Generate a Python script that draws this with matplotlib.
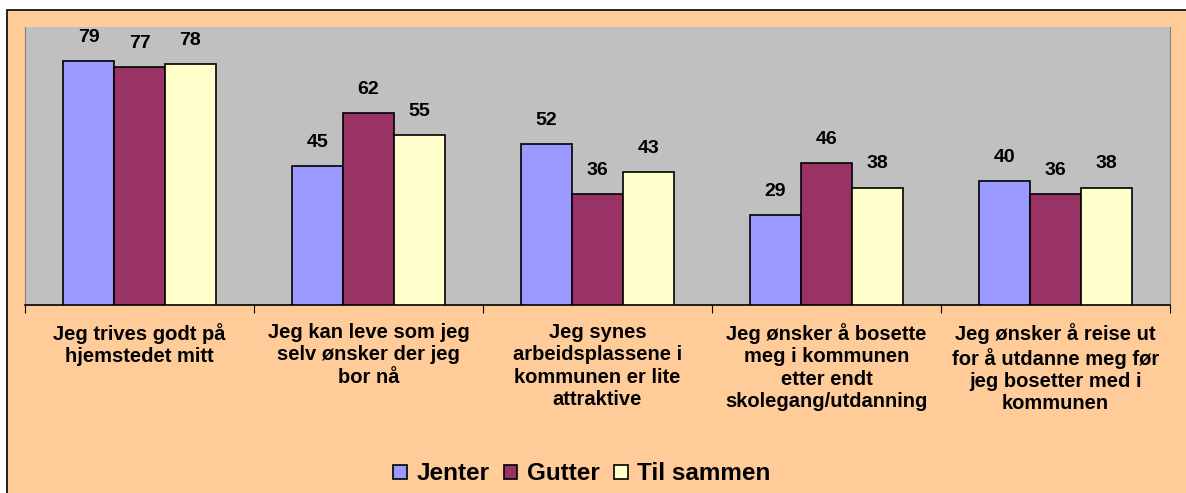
import matplotlib
matplotlib.use("Agg")
from matplotlib import pyplot as plt
from matplotlib.patches import Rectangle
import numpy as np

# Categories (x-axis labels)
categories = [
    "Jeg trives godt på\nhjemstedet mitt",
    "Jeg kan leve som jeg\nselv ønsker der jeg\nbor nå",
    "Jeg synes\narbeidsplassene i\nkommunen er lite\nattraktive",
    "Jeg ønsker å bosette\nmeg i kommunen\netter endt\nskolegang/utdanning",
    "Jeg ønsker å reise ut\nfor å utdanne meg før\njeg bosetter med i\nkommunen",
]

# Series values
jenter = [79, 45, 52, 29, 40]
gutter = [77, 62, 36, 46, 36]
til_sammen = [78, 55, 43, 38, 38]

series_names = ["Jenter", "Gutter", "Til sammen"]
colors = ["#9999FF", "#993366", "#FFFFCC"]

plt.rcParams["font.family"] = ["Liberation Sans", "DejaVu Sans"]
plt.rcParams["font.weight"] = "bold"

fig = plt.figure(figsize=(11.86, 4.93), dpi=100)
fig.patch.set_facecolor("white")

# Peach chart area with black border (runs off the right/bottom edge)
W, H = 1186, 493
fig.patches.append(Rectangle((7 / W, -0.05), 1.2, (H - 10) / H + 0.05,
                             transform=fig.transFigure, facecolor="#FFCC99",
                             edgecolor="black", linewidth=1.2, zorder=-5))

ax = fig.add_axes([25 / W, (H - 305) / H, (1170 - 25) / W, (305 - 27) / H])
ax.set_facecolor("#C0C0C0")

x = np.arange(len(categories))
width = 1 / 4.5
for i, (vals, name, col) in enumerate(zip([jenter, gutter, til_sammen], series_names, colors)):
    bars = ax.bar(x + (i - 1) * width, vals, width, color=col, edgecolor="black",
                  linewidth=1.2, label=name, zorder=3)
    for b, v in zip(bars, vals):
        ax.annotate(str(v), (b.get_x() + b.get_width() / 2, v), xytext=(0, 11),
                    textcoords="offset points", ha="center", va="bottom",
                    fontsize=14, fontweight="bold")

ax.set_xlim(-0.5, len(categories) - 0.5)
ax.set_ylim(0, 90)
ax.set_yticks([])
ax.set_xticks(np.arange(-0.5, len(categories), 1))
ax.set_xticklabels([])
ax.set_xticks(x, minor=True)
ax.set_xticklabels(categories, minor=True, fontsize=14.5, fontweight="bold",
                   linespacing=1.22, va="top")
ax.tick_params(axis="x", which="major", length=6, direction="out", color="black")
ax.tick_params(axis="x", which="minor", length=0, pad=13)
ax.spines["top"].set_visible(False)
ax.spines["right"].set_color("#808080")
ax.spines["left"].set_color("#808080")
ax.spines["bottom"].set_color("black")
ax.spines["bottom"].set_linewidth(1.2)

fig.legend(loc="center", bbox_to_anchor=(582 / W, 1 - 474 / H), ncol=3,
           frameon=False, prop={"size": 17.5, "weight": "bold"},
           handlelength=0.55, handleheight=0.55, handletextpad=0.4,
           columnspacing=0.6)

fig.savefig("out.png", dpi=100, facecolor=fig.get_facecolor())
